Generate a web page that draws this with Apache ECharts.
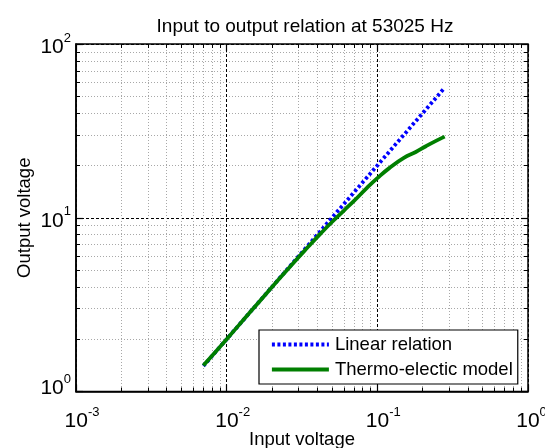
<!DOCTYPE html>
<html>
<head>
<meta charset="utf-8">
<script src="https://cdn.jsdelivr.net/npm/echarts@6/dist/echarts.min.js"></script>
<style>
  html, body { margin: 0; padding: 0; background: #fff; }
  #chart { width: 545px; height: 448px; }
</style>
</head>
<body>
<div id="chart"></div>
<script>
// Input amplitude sweep (V) and the two output curves (V)
const inputVoltage = [0.007, 0.01, 0.014, 0.02, 0.028, 0.035, 0.042, 0.05, 0.06, 0.07,
                      0.085, 0.1, 0.12, 0.15, 0.18, 0.21, 0.245, 0.28];
const linearRelation = [1.4, 2.0, 2.8, 4.0, 5.6, 7.0, 8.4, 10.0, 12.0, 14.0,
                        17.0, 20.0, 24.0, 30.0, 36.0, 42.0, 49.0, 56.0];
const thermoModel = [1.41, 2.0, 2.8, 3.99, 5.55, 6.85, 8.1, 9.45, 11.0, 12.5,
                     14.8, 16.9, 19.3, 22.1, 23.9, 25.8, 27.7, 29.3];

// Decade tick positions and axis ranges
const xTicks = [0.001, 0.01, 0.1, 1];
const yTicks = [1, 10, 100];

function minorValues(ticks) {
  const out = [];
  for (let i = 0; i < ticks.length - 1; i++) {
    for (let k = 2; k <= 9; k++) out.push(+(ticks[i] * k).toPrecision(6));
  }
  return out;
}
const xMinor = minorValues(xTicks);
const yMinor = minorValues(yTicks);

const FONT = '"Liberation Sans", Arial, sans-serif';
const majorSplit = { show: true, lineStyle: { color: '#000', width: 1, type: [3, 2] } };
const minorSplit = { show: true, lineStyle: { color: '#a8a8a8', width: 1, type: [1, 2] } };

function expOf(v) { return Math.round(Math.log10(v)); }

// Power-of-ten labels: mantissa "10" with a raised exponent
const xRich = {
  b: { fontSize: 21, fontFamily: FONT, color: '#000', lineHeight: 32 },
  s: { fontSize: 13, fontFamily: FONT, color: '#000', lineHeight: 13, verticalAlign: 'top' },
  p3: { width: 12 },
  p1: { width: 7 }
};
const yRich = {
  b: { fontSize: 21, fontFamily: FONT, color: '#000', lineHeight: 32 },
  s: { fontSize: 13, fontFamily: FONT, color: '#000', lineHeight: 13, verticalAlign: 'top' },
  top: { lineHeight: 7, height: 7 },
  low: { lineHeight: 6, height: 6 }
};

function logAxis(opts) {
  return Object.assign({
    type: 'log',
    logBase: 10,
    axisLine: { show: false },
    axisLabel: { show: false },
    splitLine: { show: false },
    minorTick: { show: false },
    z: 1
  }, opts);
}

const xAxes = [
  logAxis({
    position: 'bottom', min: 0.001, max: 1,
    axisLine: { show: true, onZero: false, lineStyle: { color: '#000', width: 1.5 } },
    axisTick: { show: true, inside: true, length: 7, customValues: xTicks, lineStyle: { color: '#000', width: 1.2 } },
    axisLabel: {
      show: true, margin: 14, customValues: xTicks,
      formatter: function (v) {
        const e = expOf(v);
        return '{' + (e < 0 ? 'p3' : 'p1') + '|}{b|10}{s|' + e + '}';
      },
      rich: xRich
    },
    splitLine: majorSplit,
    name: 'Input voltage', nameLocation: 'middle', nameGap: 39, nameMoveOverlap: false,
    nameTextStyle: { fontSize: 18.5, fontFamily: FONT, color: '#000' }
  }),
  logAxis({
    position: 'bottom', min: 0.001, max: 1,
    axisTick: { show: true, inside: true, length: 4, customValues: xMinor, lineStyle: { color: '#000', width: 1 } },
    splitLine: minorSplit
  }),
  logAxis({
    position: 'top', min: 0.001, max: 1,
    axisTick: { show: true, inside: true, length: 7, customValues: xTicks, lineStyle: { color: '#000', width: 1.2 } }
  }),
  logAxis({
    position: 'top', min: 0.001, max: 1,
    axisTick: { show: true, inside: true, length: 4, customValues: xMinor, lineStyle: { color: '#000', width: 1 } }
  })
];

const yAxes = [
  logAxis({
    position: 'left', min: 1, max: 100,
    axisLine: { show: true, onZero: false, lineStyle: { color: '#000', width: 1.5 } },
    axisTick: { show: true, inside: true, length: 7, customValues: yTicks, lineStyle: { color: '#000', width: 1.2 } },
    axisLabel: {
      show: true, margin: 5, customValues: yTicks,
      formatter: function (v) {
        const e = expOf(v);
        // upper labels sit slightly below their tick, the lowest slightly above
        if (e === 0) return '{b|10}{s|' + e + '}\n{low|}';
        return '{top|}\n{b|10}{s|' + e + '}';
      },
      rich: yRich
    },
    splitLine: majorSplit,
    name: 'Output voltage', nameLocation: 'middle', nameGap: 42, nameMoveOverlap: false,
    nameTextStyle: { fontSize: 18.5, fontFamily: FONT, color: '#000' }
  }),
  logAxis({
    position: 'left', min: 1, max: 100,
    axisTick: { show: true, inside: true, length: 4, customValues: yMinor, lineStyle: { color: '#000', width: 1 } },
    splitLine: minorSplit
  }),
  logAxis({
    position: 'right', min: 1, max: 100,
    axisTick: { show: true, inside: true, length: 7, customValues: yTicks, lineStyle: { color: '#000', width: 1.2 } }
  }),
  logAxis({
    position: 'right', min: 1, max: 100,
    axisTick: { show: true, inside: true, length: 4, customValues: yMinor, lineStyle: { color: '#000', width: 1 } }
  })
];

const chart = echarts.init(document.getElementById('chart'), null, { renderer: 'canvas' });
chart.setOption({
  animation: false,
  backgroundColor: '#fff',
  title: {
    text: 'Input to output relation at 53025 Hz',
    left: 300, top: 12, textAlign: 'center',
    textStyle: { fontSize: 19, fontWeight: 'normal', fontFamily: FONT, color: '#000' }
  },
  grid: {
    left: 76, right: 17, top: 44, bottom: 56.5,
    containLabel: false, outerBoundsMode: 'none',
    show: true, borderColor: '#000', borderWidth: 1.5, backgroundColor: 'transparent'
  },
  legend: {
    left: 259, top: 330, orient: 'vertical',
    padding: [5, 5, 5, 11], itemWidth: 57, itemHeight: 16, itemGap: 6,
    backgroundColor: '#fff', borderColor: '#000', borderWidth: 1.2, borderRadius: 0,
    itemStyle: { opacity: 0 },
    lineStyle: { width: 3.8 },
    textStyle: { fontSize: 18.5, fontFamily: FONT, color: '#000', padding: [0, 0, 0, 1] },
    data: ['Linear relation', 'Thermo-electic model']
  },
  xAxis: xAxes,
  yAxis: yAxes,
  series: [
    {
      name: 'Linear relation', type: 'line', xAxisIndex: 0, yAxisIndex: 0,
      symbol: 'none', smooth: false,
      lineStyle: { color: '#0000ff', width: 3.8, type: [3, 2.5], cap: 'butt' },
      itemStyle: { color: '#0000ff' },
      data: inputVoltage.map((x, i) => [x, linearRelation[i]]),
      z: 3
    },
    {
      name: 'Thermo-electic model', type: 'line', xAxisIndex: 0, yAxisIndex: 0,
      symbol: 'none', smooth: true,
      lineStyle: { color: '#007f00', width: 3.8 },
      itemStyle: { color: '#007f00' },
      data: inputVoltage.map((x, i) => [x, thermoModel[i]]),
      z: 4
    }
  ]
});
</script>
</body>
</html>
